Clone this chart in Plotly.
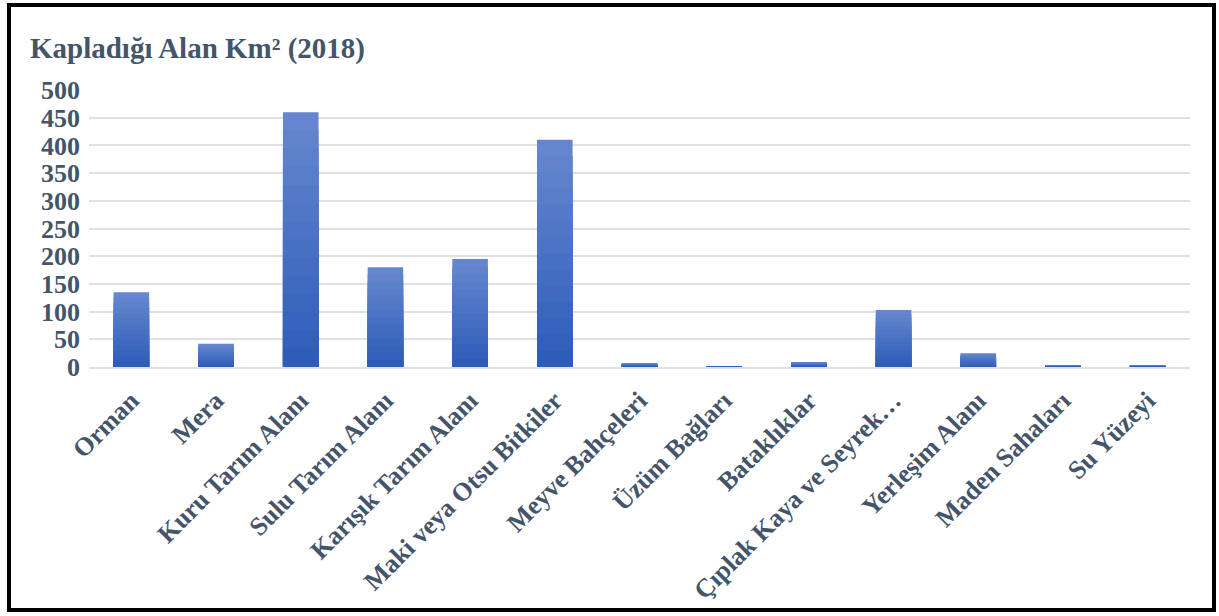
import plotly.graph_objects as go

categories = ["Orman", "Mera", "Kuru Tarım Alanı", "Sulu Tarım Alanı", "Karışık Tarım Alanı",
              "Maki veya Otsu Bitkiler", "Meyve Bahçeleri", "Üzüm Bağları", "Bataklıklar",
              "Çıplak Kaya ve Seyrek…", "Yerleşim Alanı", "Maden Sahaları", "Su Yüzeyi"]
values = [135, 42, 460, 180, 195, 410, 7, 0.5, 9, 103, 25, 2.5, 2.5]
y_ticks = [0, 50, 100, 150, 200, 250, 300, 350, 400, 450, 500]

W, H = 1219, 616
L, R, T, B = 89, 29, 90, 249
pw, ph = W - L - R, H - T - B

font_c = "#44546A"
fam = "Liberation Serif, Times New Roman, serif"

fig = go.Figure()
# vertical gradient per bar: overlay bars of decreasing height, getting darker
steps = 14
top_rgb = (101, 134, 206)
bot_rgb = (46, 93, 184)
for i in range(steps):
    f = 1 - i / steps
    t = i / (steps - 1)
    c = tuple(round(top_rgb[k] + (bot_rgb[k] - top_rgb[k]) * t) for k in range(3))
    fig.add_trace(go.Bar(
        x=categories, y=[v * f for v in values],
        marker=dict(color="rgb(%d,%d,%d)" % c, line=dict(width=0)),
        hoverinfo="skip" if i else None, showlegend=False,
    ))

def px_x(p):
    return (p - L) / pw

def px_y(p):
    return (H - B - p) / ph

fig.add_shape(type="rect", xref="paper", yref="paper",
              x0=px_x(9), x1=px_x(1214), y0=px_y(610), y1=px_y(5),
              line=dict(color="black", width=4), layer="above")

fig.update_layout(
    width=W, height=H,
    margin=dict(l=L, r=R, t=T, b=B, autoexpand=False),
    paper_bgcolor="white", plot_bgcolor="white",
    barmode="overlay", bargap=0.58,
    title=dict(text="Kapladığı Alan Km² (2018)", xref="container", yref="container",
               x=30 / W, xanchor="left", y=1 - 48 / H, yanchor="middle",
               font=dict(family=fam, size=29, color=font_c, weight="bold")),
    font=dict(family=fam, color=font_c),
    xaxis=dict(tickangle=-45, tickfont=dict(family=fam, size=26, color=font_c, weight="bold"),
               showgrid=False, showline=True, linecolor="#DDE0E5", linewidth=2,
               ticks="", ticklabelstandoff=6, fixedrange=True),
    yaxis=dict(range=[0, 500], tickvals=y_ticks, ticktext=[str(v) for v in y_ticks],
               tickfont=dict(family=fam, size=26, color=font_c, weight="bold"),
               showgrid=True, gridcolor="#DDE0E5", gridwidth=2, zeroline=False,
               ticks="", ticklabelstandoff=8, showline=False, fixedrange=True),
)

fig.write_html("out.html", config={"displayModeBar": False},
               post_script="document.body.style.margin='0';document.body.style.overflow='hidden';")
